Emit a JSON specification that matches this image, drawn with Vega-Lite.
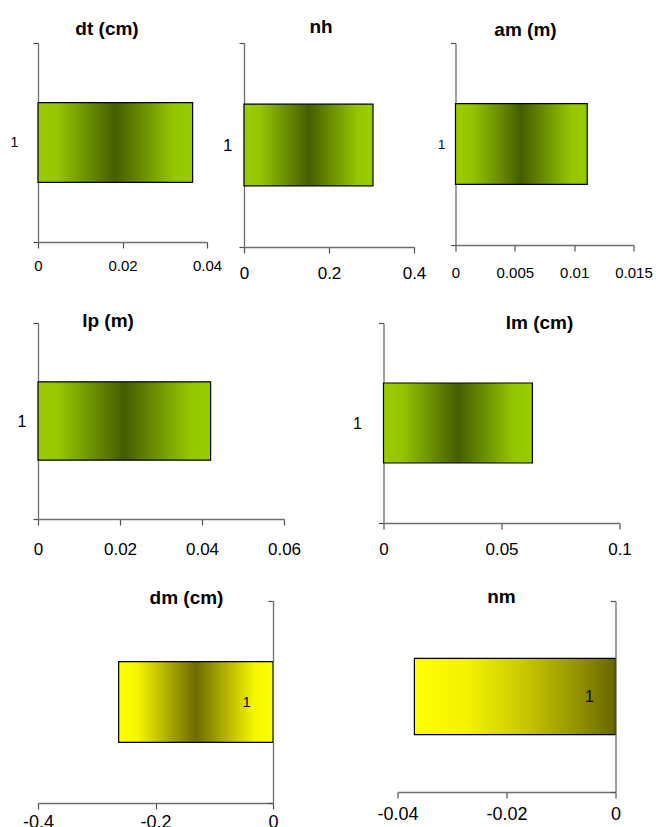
{
  "$schema": "https://vega.github.io/schema/vega-lite/v6.json",
  "padding": {"left": 10, "top": 18, "right": 0, "bottom": 0},
  "background": "white",
  "data": {"values": [
    {"var": "dt", "cat": "1", "value": 0.0366},
    {"var": "nh", "cat": "1", "value": 0.3035},
    {"var": "am", "cat": "1", "value": 0.0111},
    {"var": "lp", "cat": "1", "value": 0.0421},
    {"var": "lm", "cat": "1", "value": 0.0631},
    {"var": "dm", "cat": "1", "value": -0.2627},
    {"var": "nm", "cat": "1", "value": -0.0369}
  ]},
  "config": {
    "view": {"stroke": null},
    "axis": {"labelFont": "Liberation Sans", "labelColor": "#000000", "domainColor": "#6e6e6e", "tickColor": "#505050", "domainWidth": 1.3, "tickWidth": 1.2, "grid": false, "labelFlush": false, "labelOverlap": false, "labelBound": false},
    "title": {"font": "Liberation Sans", "fontWeight": "bold", "fontSize": 19, "color": "#000000", "frame": "group", "anchor": "middle", "baseline": "alphabetic"}
  },
  "concat": [
    {
      "concat": [
        {
          "concat": [
            {
              "width": 169, "height": 199,
              "title": {"text": "dt (cm)", "offset": -3.3, "dx": -15.5},
              "transform": [{"filter": "datum.var === 'dt'"}],
              "mark": {"type": "bar", "height": {"band": 0.4}, "stroke": "#000000", "strokeWidth": 1.2,
                "fill": {"gradient": "linear", "x1": 0, "y1": 0, "x2": 1, "y2": 0, "stops": [
                  {"offset": 0, "color": "#99cc00"}, {"offset": 0.12, "color": "#95c700"}, {"offset": 0.5, "color": "#445e00"}, {"offset": 0.88, "color": "#95c700"}, {"offset": 1, "color": "#99cc00"}]}},
              "encoding": {
                "x": {"field": "value", "type": "quantitative", "scale": {"domain": [0, 0.04], "nice": false, "zero": false},
                  "axis": {"title": null, "values": [0, 0.02, 0.04], "labelExpr": "'' + datum.value", "tickSize": 6, "labelFontSize": 15, "labelPadding": 10}},
                "y": {"field": "cat", "type": "nominal", "scale": {"paddingInner": 0, "paddingOuter": 0},
                  "axis": {"title": null, "tickBand": "extent", "tickSize": 5, "labelFontSize": 14, "labelPadding": 15.2, "labelAngle": 0}}
              }
            },
            {
              "width": 170, "height": 204,
              "title": {"text": "nh", "offset": -3.3, "dx": -8},
              "transform": [{"filter": "datum.var === 'nh'"}],
              "mark": {"type": "bar", "height": {"band": 0.4}, "stroke": "#000000", "strokeWidth": 1.2,
                "fill": {"gradient": "linear", "x1": 0, "y1": 0, "x2": 1, "y2": 0, "stops": [
                  {"offset": 0, "color": "#99cc00"}, {"offset": 0.12, "color": "#95c700"}, {"offset": 0.5, "color": "#445e00"}, {"offset": 0.88, "color": "#95c700"}, {"offset": 1, "color": "#99cc00"}]}},
              "encoding": {
                "x": {"field": "value", "type": "quantitative", "scale": {"domain": [0, 0.4], "nice": false, "zero": false},
                  "axis": {"title": null, "values": [0, 0.2, 0.4], "labelExpr": "'' + datum.value", "tickSize": 6, "labelFontSize": 17, "labelPadding": 12}},
                "y": {"field": "cat", "type": "nominal", "scale": {"paddingInner": 0, "paddingOuter": 0},
                  "axis": {"title": null, "tickBand": "extent", "tickSize": 5, "labelFontSize": 17, "labelPadding": 7, "labelAngle": 0}}
              }
            }
          ],
          "columns": 2, "align": "none", "spacing": 0
        },
        {
          "width": 178, "height": 202,
          "title": {"text": "am (m)", "offset": -3.3, "dx": -19},
          "transform": [{"filter": "datum.var === 'am'"}],
          "mark": {"type": "bar", "height": {"band": 0.4}, "stroke": "#000000", "strokeWidth": 1.2,
            "fill": {"gradient": "linear", "x1": 0, "y1": 0, "x2": 1, "y2": 0, "stops": [
              {"offset": 0, "color": "#99cc00"}, {"offset": 0.12, "color": "#95c700"}, {"offset": 0.5, "color": "#445e00"}, {"offset": 0.88, "color": "#95c700"}, {"offset": 1, "color": "#99cc00"}]}},
          "encoding": {
            "x": {"field": "value", "type": "quantitative", "scale": {"domain": [0, 0.015], "nice": false, "zero": false},
              "axis": {"title": null, "values": [0, 0.005, 0.01, 0.015], "labelExpr": "'' + datum.value", "tickSize": 6, "labelFontSize": 15, "labelPadding": 14}},
            "y": {"field": "cat", "type": "nominal", "scale": {"paddingInner": 0, "paddingOuter": 0},
              "axis": {"title": null, "tickBand": "extent", "tickSize": 5, "labelFontSize": 13, "labelPadding": 5.8, "labelAngle": 0}}
          }
        }
      ],
      "columns": 2, "align": "none", "spacing": 10.5
    },
    {
      "concat": [
        {
          "width": 246, "height": 196,
          "title": {"text": "lp (m)", "offset": -16, "dx": -53},
          "transform": [{"filter": "datum.var === 'lp'"}],
          "mark": {"type": "bar", "height": {"band": 0.4}, "stroke": "#000000", "strokeWidth": 1.2,
            "fill": {"gradient": "linear", "x1": 0, "y1": 0, "x2": 1, "y2": 0, "stops": [
              {"offset": 0, "color": "#99cc00"}, {"offset": 0.12, "color": "#95c700"}, {"offset": 0.5, "color": "#445e00"}, {"offset": 0.88, "color": "#95c700"}, {"offset": 1, "color": "#99cc00"}]}},
          "encoding": {
            "x": {"field": "value", "type": "quantitative", "scale": {"domain": [0, 0.06], "nice": false, "zero": false},
              "axis": {"title": null, "values": [0, 0.02, 0.04, 0.06], "labelExpr": "'' + datum.value", "tickSize": 6, "labelFontSize": 17, "labelPadding": 16}},
            "y": {"field": "cat", "type": "nominal", "scale": {"paddingInner": 0, "paddingOuter": 0},
              "axis": {"title": null, "tickBand": "extent", "tickSize": 5, "labelFontSize": 16, "labelPadding": 7.1, "labelAngle": 0}}
          }
        },
        {
          "width": 236, "height": 200,
          "title": {"text": "lm (cm)", "offset": -18, "dx": 38},
          "transform": [{"filter": "datum.var === 'lm'"}],
          "mark": {"type": "bar", "height": {"band": 0.4}, "stroke": "#000000", "strokeWidth": 1.2,
            "fill": {"gradient": "linear", "x1": 0, "y1": 0, "x2": 1, "y2": 0, "stops": [
              {"offset": 0, "color": "#99cc00"}, {"offset": 0.12, "color": "#95c700"}, {"offset": 0.5, "color": "#445e00"}, {"offset": 0.88, "color": "#95c700"}, {"offset": 1, "color": "#99cc00"}]}},
          "encoding": {
            "x": {"field": "value", "type": "quantitative", "scale": {"domain": [0, 0.1], "nice": false, "zero": false},
              "axis": {"title": null, "values": [0, 0.05, 0.1], "labelExpr": "'' + datum.value", "tickSize": 6, "labelFontSize": 17, "labelPadding": 12}},
            "y": {"field": "cat", "type": "nominal", "scale": {"paddingInner": 0, "paddingOuter": 0},
              "axis": {"title": null, "tickBand": "extent", "tickSize": 5, "labelFontSize": 16, "labelPadding": 17.1, "labelAngle": 0}}
          }
        }
      ],
      "columns": 2, "align": "none", "spacing": 51.5
    },
    {
      "concat": [
        {
          "width": 235, "height": 202,
          "title": {"text": "dm (cm)", "offset": -14, "dx": 31},
          "transform": [{"filter": "datum.var === 'dm'"}],
          "mark": {"type": "bar", "height": {"band": 0.4}, "stroke": "#000000", "strokeWidth": 1.2,
            "fill": {"gradient": "linear", "x1": 0, "y1": 0, "x2": 1, "y2": 0, "stops": [
              {"offset": 0, "color": "#ffff00"}, {"offset": 0.12, "color": "#f6f600"}, {"offset": 0.5, "color": "#6c6c00"}, {"offset": 0.88, "color": "#f6f600"}, {"offset": 1, "color": "#ffff00"}]}},
          "encoding": {
            "x": {"field": "value", "type": "quantitative", "scale": {"domain": [-0.4, 0], "nice": false, "zero": false},
              "axis": {"title": null, "values": [-0.4, -0.2, 0], "labelExpr": "'' + datum.value", "tickSize": 6, "labelFontSize": 18, "labelPadding": 4}},
            "y": {"field": "cat", "type": "nominal", "scale": {"paddingInner": 0, "paddingOuter": 0},
              "axis": {"title": null, "orient": "left", "offset": -235, "zindex": 1, "tickBand": "extent", "tickSize": 5, "labelFontSize": 14, "labelPadding": 18, "labelAngle": 0}}
          }
        },
        {
          "width": 218, "height": 191,
          "title": {"text": "nm", "offset": -14, "dx": -5},
          "transform": [{"filter": "datum.var === 'nm'"}],
          "mark": {"type": "bar", "height": {"band": 0.4}, "stroke": "#000000", "strokeWidth": 1.2,
            "fill": {"gradient": "linear", "x1": 0, "y1": 0, "x2": 1, "y2": 0, "stops": [
              {"offset": 0, "color": "#ffff00"}, {"offset": 0.25, "color": "#f4f400"}, {"offset": 0.55, "color": "#c8c800"}, {"offset": 0.8, "color": "#959500"}, {"offset": 1, "color": "#666600"}]}},
          "encoding": {
            "x": {"field": "value", "type": "quantitative", "scale": {"domain": [-0.04, 0], "nice": false, "zero": false},
              "axis": {"title": null, "values": [-0.04, -0.02, 0], "labelExpr": "'' + datum.value", "tickSize": 6, "labelFontSize": 18, "labelPadding": 7}},
            "y": {"field": "cat", "type": "nominal", "scale": {"paddingInner": 0, "paddingOuter": 0},
              "axis": {"title": null, "orient": "left", "offset": -218, "zindex": 1, "tickBand": "extent", "tickSize": 5, "labelFontSize": 16, "labelPadding": 17, "labelAngle": 0}}
          }
        }
      ],
      "columns": 2, "align": "none", "spacing": 97.5
    }
  ],
  "columns": 1, "align": "none", "spacing": 31
}
